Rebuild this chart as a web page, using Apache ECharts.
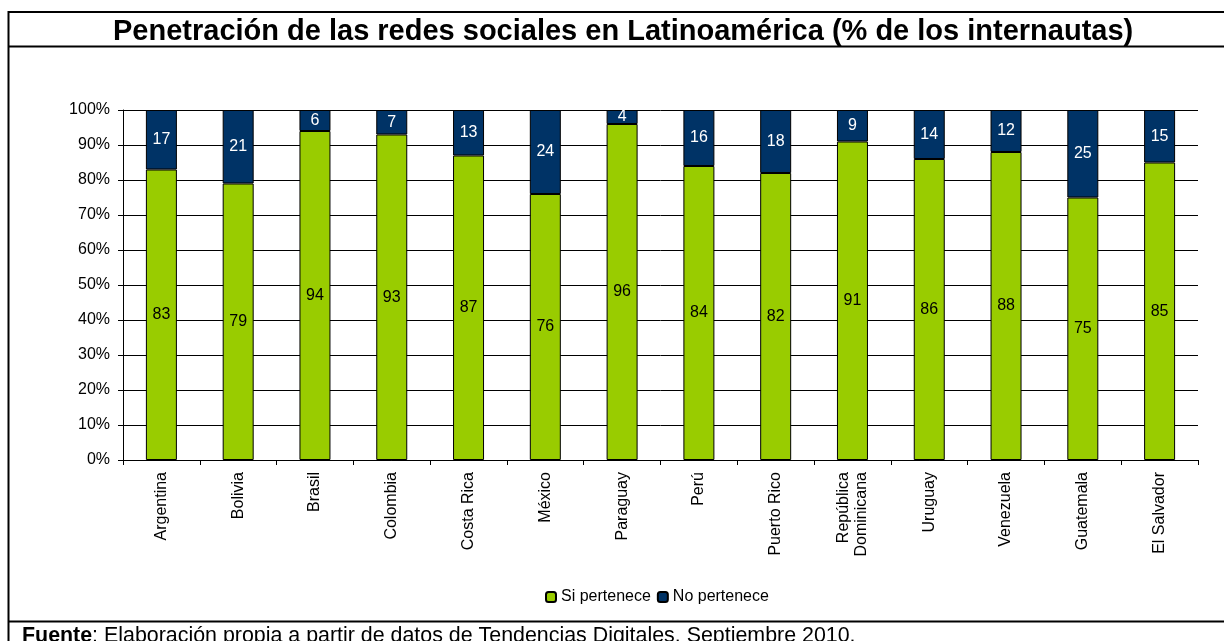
<!DOCTYPE html>
<html>
<head>
<meta charset="utf-8">
<script src="https://cdn.jsdelivr.net/npm/echarts@6/dist/echarts.min.js"></script>
<style>
  html, body { margin: 0; padding: 0; background: #fff; }
  #chart { width: 1224px; height: 641px; }
</style>
</head>
<body>
<div id="chart"></div>
<script>
const paises = ['Argentina', 'Bolivia', 'Brasil', 'Colombia', 'Costa Rica', 'México', 'Paraguay',
  'Perú', 'Puerto Rico', 'República\nDominicana', 'Uruguay', 'Venezuela', 'Guatemala', 'El Salvador'];
const siPertenece = [83, 79, 94, 93, 87, 76, 96, 84, 82, 91, 86, 88, 75, 85];
const noPertenece = [17, 21, 6, 7, 13, 24, 4, 16, 18, 9, 14, 12, 25, 15];

const chart = echarts.init(document.getElementById('chart'));
const fuente = 'Liberation Sans, Arial, sans-serif';

const option = {
  animation: false,
  textStyle: { fontFamily: fuente },
  title: {
    text: 'Penetración de las redes sociales en Latinoamérica (% de los internautas)',
    left: 108,
    top: 12,
    textStyle: { fontSize: 29, fontWeight: 'bold', color: '#000', fontFamily: fuente }
  },
  legend: {
    top: 584,
    left: 540,
    itemWidth: 10,
    itemHeight: 10,
    itemGap: 6,
    textStyle: { fontSize: 16, color: '#000' },
    data: ['Si pertenece', 'No pertenece']
  },
  grid: { left: 123, right: 26, top: 110, bottom: 181 },
  xAxis: {
    type: 'category',
    data: paises,
    axisLine: { lineStyle: { color: '#000' } },
    axisTick: { show: true, length: 5, lineStyle: { color: '#000' } },
    axisLabel: { rotate: 90, color: '#000', fontSize: 16, margin: 12, lineHeight: 18 }
  },
  yAxis: {
    type: 'value',
    min: 0,
    max: 100,
    interval: 10,
    axisLine: { show: true, lineStyle: { color: '#000' } },
    axisTick: { show: true, length: 5, lineStyle: { color: '#000' } },
    axisLabel: { formatter: '{value}%', color: '#000', fontSize: 16, margin: 13 },
    splitLine: { lineStyle: { color: '#000', width: 1 } }
  },
  series: [
    {
      name: 'Si pertenece',
      type: 'bar',
      stack: 'total',
      barWidth: 31,
      data: siPertenece,
      itemStyle: { color: '#99CC00', borderColor: '#000', borderWidth: 1 },
      label: { show: true, position: 'inside', color: '#000', fontSize: 16 }
    },
    {
      name: 'No pertenece',
      type: 'bar',
      stack: 'total',
      barWidth: 31,
      data: noPertenece,
      itemStyle: { color: '#003366', borderColor: '#000', borderWidth: 1 },
      label: { show: true, position: 'inside', color: '#fff', fontSize: 16 }
    }
  ],
  graphic: [
    // marco exterior y separadores
    { type: 'line', shape: { x1: 8, y1: 12, x2: 1224, y2: 12 }, style: { stroke: '#000', lineWidth: 2 }, silent: true },
    { type: 'line', shape: { x1: 8.5, y1: 11, x2: 8.5, y2: 641 }, style: { stroke: '#000', lineWidth: 2 }, silent: true },
    { type: 'line', shape: { x1: 8, y1: 46.5, x2: 1224, y2: 46.5 }, style: { stroke: '#000', lineWidth: 2 }, silent: true },
    { type: 'line', shape: { x1: 8, y1: 621.5, x2: 1224, y2: 621.5 }, style: { stroke: '#000', lineWidth: 2 }, silent: true },
    {
      type: 'text', left: 22, top: 626,
      style: {
        text: '{b|Fuente}: Elaboración propia a partir de datos de Tendencias Digitales. Septiembre 2010.',
        font: '21.4px ' + fuente, fill: '#000',
        rich: { b: { fontWeight: 'bold', fontSize: 21.4, fontFamily: fuente } }
      }
    }
  ]
};

chart.setOption(option);
</script>
</body>
</html>
